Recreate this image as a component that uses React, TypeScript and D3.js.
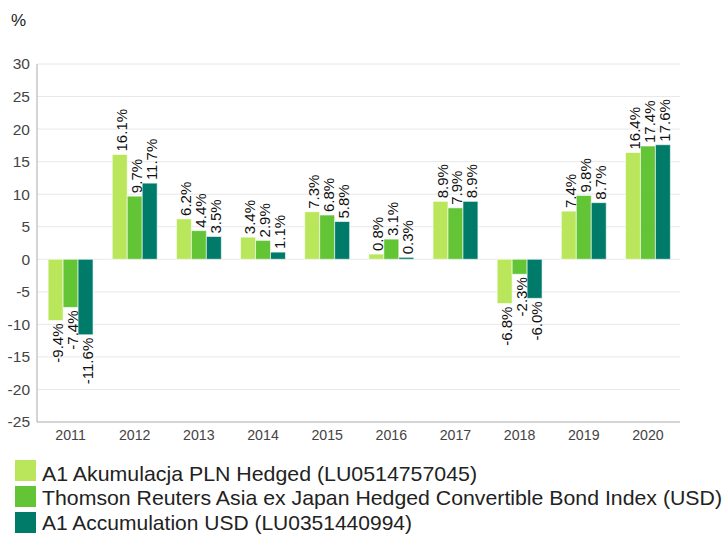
import React from "react";
import * as d3 from "d3";

const years = ["2011", "2012", "2013", "2014", "2015", "2016", "2017", "2018", "2019", "2020"];
const seriesNames = [
  "A1 Akumulacja PLN Hedged (LU0514757045)",
  "Thomson Reuters Asia ex Japan Hedged Convertible Bond Index (USD)",
  "A1 Accumulation USD (LU0351440994)",
];
const plnHedged = [-9.4, 16.1, 6.2, 3.4, 7.3, 0.8, 8.9, -6.8, 7.4, 16.4];
const indexUsd = [-7.4, 9.7, 4.4, 2.9, 6.8, 3.1, 7.9, -2.3, 9.8, 17.4];
const accUsd = [-11.6, 11.7, 3.5, 1.1, 5.8, 0.3, 8.9, -6.0, 8.7, 17.6];
const yTicks = [30, 25, 20, 15, 10, 5, 0, -5, -10, -15, -20, -25];
const colors = ["#b9e65a", "#63c435", "#007b6a"];
const legendWidths = [435, 680, 370];

export default function App() {
  const W = 725, H = 534;
  const left = 37, right = 680, top = 64, bottom = 422;
  const x = d3.scaleBand<string>().domain(years).range([38.5, right]).paddingInner(0.3).paddingOuter(0.15);
  const x1 = d3.scaleBand<number>().domain([0, 1, 2]).range([0, x.bandwidth()]);
  const y = d3.scaleLinear().domain([-25, 30]).range([bottom, top]);
  const series = [plnHedged, indexUsd, accUsd];
  const font = "'Liberation Sans', Arial, sans-serif";

  return (
    <svg width={W} height={H} style={{ position: "absolute", left: 0, top: 0, background: "#fff" }} fontFamily={font}>
      <text x={11} y={26} fontSize={17} fill="#222">%</text>
      {yTicks.map((t) => (
        <g key={t}>
          {t !== -25 && <line x1={left} x2={right} y1={y(t)} y2={y(t)} stroke="#e8e8e8" strokeWidth={1} />}
          <text x={30} y={y(t)} dy="0.35em" textAnchor="end" fontSize={15.5} fill="#444">{t}</text>
        </g>
      ))}
      <line x1={left} x2={left} y1={top} y2={bottom} stroke="#aaa" />
      <line x1={left} x2={right} y1={bottom} y2={bottom} stroke="#aaa" />
      {years.map((yr) => (
        <text key={yr} x={x(yr)! + x.bandwidth() / 2} y={440} textAnchor="middle" fontSize={14.2} fill="#444">{yr}</text>
      ))}
      {series.map((vals, si) =>
        vals.map((v, i) => {
          const bx = x(years[i])! + x1(si)!;
          const bw = x1.bandwidth();
          const y0 = y(0), yv = y(v);
          return (
            <rect key={`${si}-${i}`} x={bx} y={Math.min(y0, yv)} width={bw} height={Math.abs(yv - y0)}
              fill={colors[si]} stroke="#fff" strokeOpacity={0.6} strokeWidth={1} />
          );
        })
      )}
      {series.map((vals, si) =>
        vals.map((v, i) => {
          const cx = x(years[i])! + x1(si)! + x1.bandwidth() / 2;
          const yv = y(v);
          const pos = v >= 0;
          const ty = pos ? yv - 3 : yv + 3;
          return (
            <text key={`l${si}-${i}`} transform={`translate(${cx + 7},${ty}) rotate(-90)`}
              textAnchor={pos ? "start" : "end"} fontSize={15} fill="#111">
              {v.toFixed(1)}%
            </text>
          );
        })
      )}
      {seriesNames.map((n, i) => (
        <g key={n}>
          <rect x={15} y={460 + i * 26} width={21} height={21} fill={colors[i]} />
          <text x={42} y={480.5 + i * 24.8} fontSize={21} fill="#222" textLength={legendWidths[i]} lengthAdjust="spacingAndGlyphs">{n}</text>
        </g>
      ))}
    </svg>
  );
}
